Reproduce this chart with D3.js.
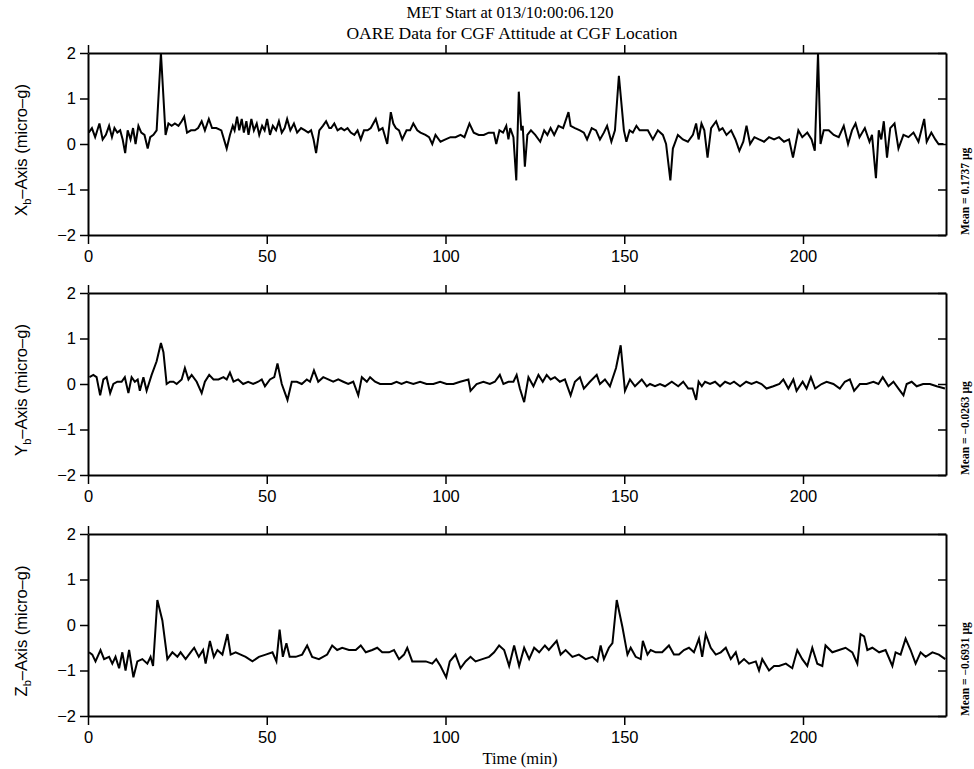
<!DOCTYPE html>
<html>
<head>
<meta charset="utf-8">
<script src="https://cdn.jsdelivr.net/npm/d3@7"></script>
<style>
  html, body { margin: 0; padding: 0; background: #fff; }
  svg { display: block; }
</style>
</head>
<body>
<svg id="chart" width="974" height="769"></svg>
<script>
// ---------------- DATA ----------------
const titleLines = ["MET Start at 013/10:00:06.120", "OARE Data for CGF Attitude at CGF Location"];
const xAxisTitle = "Time (min)";
const axisLetters = ["X", "Y", "Z"];
const meanLabels = ["Mean = 0.1737 \u00b5g", "Mean = \u22120.0263 \u00b5g", "Mean = \u22120.6931 \u00b5g"];
const xTickValues = [0, 50, 100, 150, 200];
const yTickValues = [-2, -1, 0, 1, 2];

const timeX = [0.2,1.1,2.0,3.2,4.1,5.0,5.9,6.7,7.4,8.2,9.0,9.7,10.4,11.1,11.9,12.6,13.3,14.1,14.9,15.8,16.7,17.4,18.3,19.2,20.4,21.7,22.5,23.4,24.3,25.3,26.2,26.9,27.7,28.8,29.9,30.8,31.8,32.7,33.8,34.7,35.9,37.3,38.8,39.7,40.5,41.0,41.7,42.3,43.0,43.6,44.3,44.9,45.7,46.4,47.2,47.9,48.7,49.4,50.1,50.9,51.7,52.6,53.4,54.2,55.0,55.7,56.6,57.6,58.5,59.6,60.7,61.6,62.4,63.1,63.8,64.7,65.7,66.6,67.5,
  68.0,68.9,69.8,70.8,71.7,72.6,73.5,74.5,75.4,76.3,77.2,78.2,79.1,80.5,81.4,82.4,83.7,84.7,85.4,86.1,87.0,87.9,89.1,90.1,91.0,92.1,93.0,94.4,95.4,96.3,97.2,98.6,100.0,101.4,102.8,104.2,105.3,106.7,107.9,109.3,110.7,112.1,113.5,114.2,115.1,116.1,117.0,117.6,118.1,119.0,119.8,120.5,121.2,121.6,122.2,122.9,123.9,125.1,126.5,127.6,128.5,129.4,130.4,131.6,132.9,134.4,135.0,136.2,137.6,138.7,139.6,140.9,142.1,143.2,144.3,145.2,146.4,147.4,148.5,149.9,150.6,151.5,152.4,153.4,154.3,155.7,
  156.6,158.0,159.4,160.8,161.7,162.9,163.6,165.0,166.4,167.8,169.2,170.1,170.8,171.6,172.4,173.3,174.3,175.7,176.6,177.5,178.6,179.9,181.1,182.2,183.3,184.2,185.2,186.4,187.7,189.1,190.5,191.9,193.3,194.7,196.1,197.2,198.7,199.8,201.2,202.4,203.3,204.2,204.9,205.8,207.2,208.6,210.0,211.4,212.6,213.7,214.7,215.8,217.3,218.6,219.3,220.4,221.2,221.9,222.6,223.5,224.4,225.6,226.7,228.1,229.5,230.9,232.3,233.9,234.6,235.9,237.0,237.9,239.3];
const valX = [0.25,0.35,0.15,0.45,0.1,0.2,0.4,0.15,0.35,0.25,0.3,0.1,-0.2,0.3,0.1,0.35,0.0,0.4,0.25,0.2,-0.1,0.15,0.2,0.3,2.0,0.2,0.45,0.4,0.45,0.4,0.5,0.6,0.25,0.3,0.3,0.35,0.5,0.3,0.55,0.35,0.35,0.3,-0.1,0.2,0.4,0.3,0.6,0.3,0.55,0.25,0.5,0.2,0.55,0.3,0.45,0.2,0.4,0.3,0.55,0.2,0.4,0.3,0.5,0.25,0.35,0.55,0.3,0.45,0.25,0.35,0.3,0.25,0.3,0.1,-0.2,0.3,0.4,0.5,0.35,
  0.35,0.45,0.3,0.35,0.3,0.35,0.25,0.2,0.3,0.1,0.3,0.3,0.35,0.55,0.3,0.35,0.0,0.7,0.45,0.35,0.3,0.1,0.3,0.3,0.45,0.3,0.25,0.2,0.15,0.0,0.2,0.05,0.1,0.15,0.15,0.2,0.15,0.45,0.25,0.2,0.2,0.25,0.25,0.0,0.3,0.25,0.4,0.1,0.35,0.15,-0.8,1.15,0.3,0.4,-0.5,0.2,0.3,0.2,0.05,0.3,0.2,0.35,0.2,0.4,0.35,0.7,0.4,0.35,0.3,0.25,0.1,0.35,0.3,0.1,0.25,0.4,0.05,0.3,1.5,0.3,0.05,0.3,0.25,0.4,0.3,0.3,
  0.3,0.1,0.3,0.2,0.0,-0.8,-0.1,0.2,0.1,0.05,0.2,0.45,0.1,0.45,0.3,-0.3,0.35,0.5,0.3,0.35,0.2,0.3,0.1,-0.15,0.05,0.4,0.0,0.15,0.1,0.05,0.15,0.1,0.15,0.05,0.1,-0.3,0.3,0.15,0.25,0.1,-0.15,2.0,0.0,0.3,0.3,0.2,0.15,0.4,0.0,0.3,0.45,0.15,0.35,0.05,0.2,-0.75,0.3,0.1,0.5,-0.3,0.35,0.45,-0.1,0.2,0.15,0.25,0.05,0.55,0.05,0.25,0.1,0.0,0.0];

const timeY = [0.4,1.5,2.4,3.4,4.3,5.2,6.2,7.1,8.2,9.4,10.3,11.3,12.2,13.1,13.9,14.5,15.5,16.4,17.8,19.2,20.4,21.1,22.0,22.9,23.9,24.8,26.2,27.1,28.1,29.0,30.4,31.8,32.7,33.9,35.1,36.5,37.9,38.8,39.7,40.7,42.0,43.4,44.8,46.2,47.6,48.6,49.5,50.9,52.1,53.0,54.2,55.8,57.0,58.4,59.8,61.2,62.1,63.2,64.4,65.8,67.2,
  68.6,70.0,71.4,72.8,74.2,75.6,76.6,78.0,78.9,80.3,81.7,83.5,84.9,86.3,87.7,89.1,91.0,92.9,94.7,96.6,98.5,100.3,102.2,104.1,106.4,107.0,108.7,110.6,112.4,113.8,115.2,116.2,117.6,119.0,119.9,120.8,122.0,123.2,124.6,126.0,127.2,128.3,129.4,130.6,132.0,133.4,135.0,136.2,137.6,138.7,140.4,142.3,143.2,144.6,146.0,147.7,149.0,150.2,151.6,153.0,154.9,156.3,
  157.2,158.6,160.0,161.4,163.3,164.2,165.1,166.5,167.9,169.1,170.1,170.8,171.7,172.6,174.0,175.4,176.8,178.2,179.6,180.7,182.4,184.1,185.6,187.0,188.4,189.8,191.7,193.4,194.5,195.9,197.3,198.2,199.9,201.0,202.2,203.4,205.2,206.6,208.5,210.3,211.7,213.1,214.3,215.9,217.8,219.7,221.1,222.3,223.9,225.3,226.7,228.1,229.0,230.4,231.8,233.6,235.5,237.4,239.7];
const valY = [0.15,0.2,0.15,-0.25,0.1,0.15,-0.2,0.0,0.05,0.05,0.15,-0.2,0.15,0.05,0.1,-0.15,0.15,-0.15,0.2,0.5,0.9,0.7,0.0,0.05,0.05,0.0,0.1,0.35,0.1,0.2,0.05,-0.2,0.05,0.2,0.1,0.1,0.15,0.1,0.25,0.05,0.1,0.0,0.05,0.0,0.05,0.1,-0.05,0.1,0.15,0.45,0.0,-0.35,0.05,0.05,0.0,0.1,0.05,0.3,0.05,0.15,0.1,
  0.05,0.1,0.05,0.0,0.05,-0.25,0.15,0.05,0.15,0.05,0.0,0.0,0.0,0.05,0.0,0.05,0.0,0.05,0.0,0.0,0.05,0.0,0.0,0.05,0.1,-0.15,0.0,0.05,0.0,0.05,0.2,0.0,0.05,0.05,0.2,-0.1,-0.4,0.15,-0.05,0.2,0.05,0.2,0.1,0.15,0.05,0.1,-0.25,0.05,0.15,-0.1,0.05,0.2,0.0,0.1,-0.05,0.35,0.85,-0.15,0.1,-0.05,0.1,-0.05,
  0.0,-0.05,0.0,-0.05,0.05,0.0,-0.05,0.05,-0.1,-0.1,-0.35,0.05,-0.05,0.05,0.0,0.05,-0.05,0.05,0.0,0.05,-0.05,0.05,0.0,0.05,0.0,-0.1,-0.05,0.0,0.1,-0.1,0.1,-0.15,0.05,-0.1,0.15,-0.1,0.0,0.05,0.0,-0.1,0.05,0.1,-0.15,0.0,0.0,0.05,0.0,0.15,-0.05,0.05,-0.1,-0.25,0.0,0.05,-0.05,0.0,0.0,-0.05,-0.1];

const timeZ = [0.3,1.2,2.1,3.5,4.5,5.9,6.8,7.7,8.7,9.6,10.5,11.5,12.7,13.8,15.2,16.6,17.5,18.2,19.4,20.8,22.2,23.6,25.0,25.9,27.3,28.7,29.7,31.0,32.2,32.9,34.1,35.2,36.2,37.6,39.0,39.9,41.3,42.7,44.1,46.0,47.8,49.7,51.6,52.7,53.6,54.5,55.5,56.4,58.1,59.9,61.3,62.7,64.6,66.9,
  68.3,69.7,71.1,73.0,74.9,76.3,77.7,79.5,80.9,82.3,84.2,85.6,87.0,88.4,89.3,90.7,92.6,94.5,96.3,97.4,98.6,100.2,101.2,102.8,104.2,105.6,107.0,108.4,110.3,112.2,113.6,115.0,116.4,117.8,119.2,120.6,122.0,123.4,124.8,126.2,127.8,128.9,131.1,132.2,133.6,135.5,137.3,139.2,141.1,142.5,143.4,144.3,145.7,146.7,147.9,149.5,150.9,151.8,153.2,154.6,155.2,156.5,
  157.4,158.8,160.6,162.5,163.9,165.3,166.7,168.1,169.5,170.9,171.8,172.8,174.2,175.6,177.0,178.4,179.8,181.2,182.1,183.5,184.9,186.8,187.7,188.6,190.5,191.9,193.3,195.2,197.0,198.4,199.8,201.2,202.6,204.0,205.4,206.3,208.2,210.1,211.9,213.8,215.2,216.1,217.1,218.0,219.4,221.3,223.1,225.0,225.9,227.3,228.7,230.1,231.5,232.9,234.3,236.2,238.0,239.8];
const valZ = [-0.6,-0.65,-0.8,-0.55,-0.75,-0.7,-0.85,-0.7,-0.95,-0.6,-1.0,-0.55,-1.15,-0.8,-0.75,-0.85,-0.7,-0.9,0.55,0.1,-0.75,-0.6,-0.7,-0.6,-0.75,-0.6,-0.5,-0.7,-0.55,-0.85,-0.35,-0.7,-0.55,-0.65,-0.2,-0.65,-0.6,-0.65,-0.7,-0.8,-0.7,-0.65,-0.6,-0.8,-0.1,-0.7,-0.4,-0.7,-0.7,-0.65,-0.45,-0.7,-0.75,-0.65,
  -0.45,-0.55,-0.5,-0.55,-0.55,-0.45,-0.6,-0.55,-0.5,-0.6,-0.6,-0.55,-0.75,-0.65,-0.5,-0.8,-0.8,-0.8,-0.85,-0.75,-0.9,-1.15,-0.8,-0.65,-0.95,-0.8,-0.7,-0.8,-0.75,-0.7,-0.6,-0.45,-0.55,-0.9,-0.45,-0.9,-0.5,-0.75,-0.5,-0.6,-0.45,-0.55,-0.35,-0.65,-0.55,-0.7,-0.65,-0.75,-0.7,-0.8,-0.45,-0.75,-0.5,-0.4,0.55,-0.05,-0.65,-0.5,-0.7,-0.75,-0.35,-0.65,
  -0.55,-0.6,-0.6,-0.45,-0.65,-0.65,-0.55,-0.5,-0.6,-0.3,-0.7,-0.2,-0.5,-0.65,-0.6,-0.5,-0.75,-0.6,-0.85,-0.75,-0.85,-0.8,-1.0,-0.75,-1.0,-0.9,-0.9,-0.85,-0.95,-0.55,-0.75,-0.9,-0.5,-0.85,-0.9,-0.45,-0.6,-0.55,-0.5,-0.6,-0.85,-0.2,-0.25,-0.55,-0.5,-0.6,-0.55,-0.9,-0.6,-0.65,-0.3,-0.55,-0.85,-0.6,-0.7,-0.6,-0.65,-0.75];

const panelTimes = [timeX, timeY, timeZ];
const panelValues = [valX, valY, valZ];

// ---------------- LAYOUT ----------------
const svg = d3.select("#chart");
const left = 88, right = 946;
const panelTops = [53, 293, 534];
const panelH = 182;
const serif = "'Liberation Serif', 'Times New Roman', serif";
const sans = "'Liberation Sans', Arial, sans-serif";

const x = d3.scaleLinear().domain([0, 240]).range([left, right]);

svg.append("text").attr("x", 510).attr("y", 18).attr("text-anchor", "middle")
  .attr("font-family", serif).attr("font-size", 16.5).text(titleLines[0]);
svg.append("text").attr("x", 512).attr("y", 39).attr("text-anchor", "middle")
  .attr("font-family", serif).attr("font-size", 17.5).text(titleLines[1]);

panelTimes.forEach((times, i) => {
  const top = panelTops[i];
  const y = d3.scaleLinear().domain([-2, 2]).range([top + panelH, top]);
  const g = svg.append("g");

  const gb = g.append("g").attr("transform", `translate(0,${top + panelH})`)
    .call(d3.axisBottom(x).tickValues(xTickValues).tickSize(9).tickSizeOuter(0).tickPadding(6).tickFormat(d3.format("d")));
  const gt = g.append("g").attr("transform", `translate(0,${top})`)
    .call(d3.axisTop(x).tickValues(xTickValues).tickSize(8).tickSizeOuter(0).tickFormat(""));
  const gl = g.append("g").attr("transform", `translate(${left},0)`)
    .call(d3.axisLeft(y).tickValues(yTickValues).tickSize(8).tickSizeOuter(0).tickPadding(4)
      .tickFormat(d => d < 0 ? "\u2212" + Math.abs(d) : d));
  const gr = g.append("g").attr("transform", `translate(${right},0)`)
    .call(d3.axisRight(y).tickValues(yTickValues).tickSize(-8).tickSizeOuter(0).tickFormat(""));

  [gb, gt, gl, gr].forEach(a => {
    a.selectAll("path.domain").attr("stroke", "#000").attr("stroke-width", 2);
    a.selectAll(".tick line").attr("stroke", "#000").attr("stroke-width", 1.5);
    a.selectAll("text").attr("font-family", sans).attr("font-size", 16.5).attr("fill", "#000");
  });

  const pts = times.map((t, k) => [t, panelValues[i][k]]);
  g.append("path").datum(pts)
    .attr("fill", "none").attr("stroke", "#000").attr("stroke-width", 2)
    .attr("stroke-linejoin", "miter")
    .attr("d", d3.line().x(d => x(d[0])).y(d => y(d[1])));

  const cy = top + panelH / 2 + 6;
  const t = g.append("text").attr("transform", `translate(27,${cy}) rotate(-90)`)
    .attr("text-anchor", "middle").attr("font-family", sans).attr("font-size", 16.5);
  t.append("tspan").text(axisLetters[i]);
  t.append("tspan").attr("font-size", 11).attr("dy", 4).text("b");
  t.append("tspan").attr("dy", -4).text("\u2013Axis (micro\u2013g)");

  g.append("text").attr("transform", `translate(969,${top + panelH}) rotate(-90)`)
    .attr("text-anchor", "start").attr("font-family", serif).attr("font-weight", "bold")
    .attr("font-size", 11.5).text(meanLabels[i]);
});

svg.append("text").attr("x", 520).attr("y", 764).attr("text-anchor", "middle")
  .attr("font-family", serif).attr("font-size", 16.5).text(xAxisTitle);
</script>
</body>
</html>
